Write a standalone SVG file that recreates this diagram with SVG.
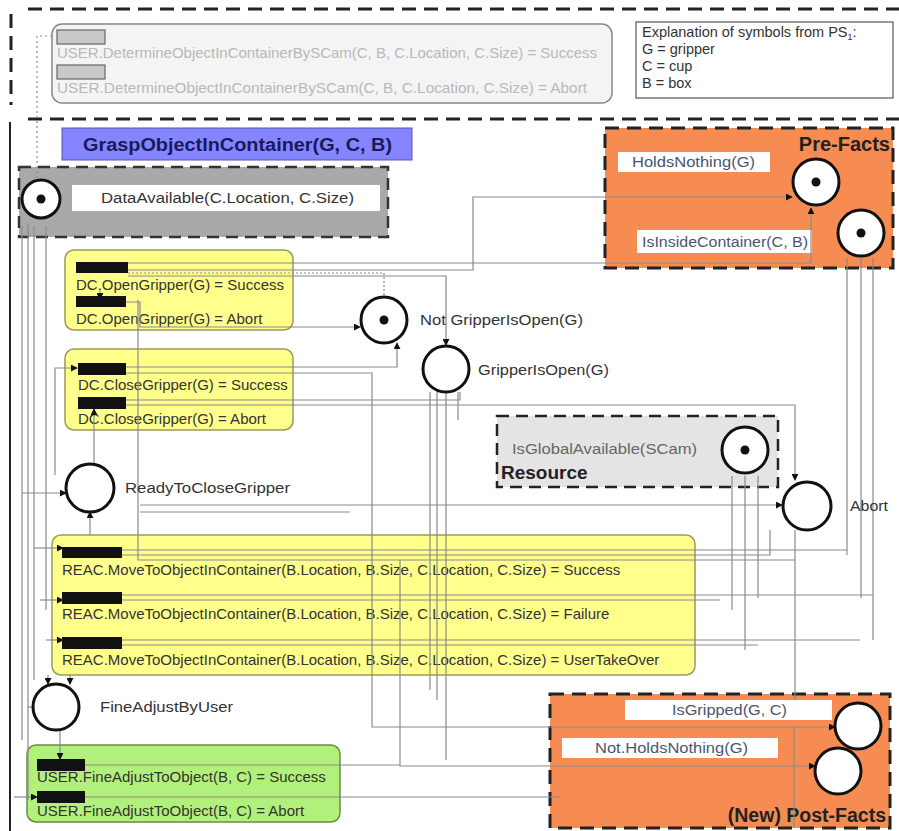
<svg xmlns="http://www.w3.org/2000/svg" width="899" height="831" viewBox="0 0 899 831">
<defs>
  <marker id="arr" viewBox="0 0 8 8" refX="7" refY="4" markerWidth="7" markerHeight="7" orient="auto" markerUnits="userSpaceOnUse">
    <path d="M0,0 L8,4 L0,8 z" fill="#111"/>
  </marker>
  <style>
    text { font-family: "Liberation Sans", Arial, sans-serif; }
    .lbl { font-size: 15px; fill: #333; }
    .plbl { font-size: 14px; fill: #333; }
    .faded { font-size: 15px; fill: #b8b8b8; }
    .expl { font-size: 14.5px; fill: #333; }
    .fact { font-size: 14px; fill: #4a5572; }
    .bold { font-weight: bold; fill: #222; }
    .place { fill: #fff; stroke: #111; stroke-width: 3; }
    .token { fill: #111; }
    .trans { fill: #111; }
    .edge { fill: none; stroke: #8a8a8a; stroke-width: 1.2; }
    .edgeA { fill: none; stroke: #8a8a8a; stroke-width: 1.2; marker-end: url(#arr); }
    .dash { fill: none; stroke: #222; stroke-width: 3; stroke-dasharray: 14 8; }
    .wlabel { fill: #fff; }
    .yellow { fill: #ffff8c; stroke: #9a9a5a; stroke-width: 1.5; }
    .green { fill: #b2f07c; stroke: #6a8a4a; stroke-width: 1.5; }
    .orange { fill: #f68c52; stroke: #222; stroke-width: 3; stroke-dasharray: 14 8; }
  </style>
</defs>

<rect x="0" y="0" width="899" height="831" fill="#fff"/>

<!-- frame of the external part and of the skill part -->
<g id="frame">
  <line x1="28" y1="9" x2="899" y2="9" class="dash"/>
  <line x1="11" y1="14" x2="11" y2="105" class="dash"/>
  <line x1="28" y1="119" x2="899" y2="119" class="dash"/>
  <line x1="10" y1="122" x2="10" y2="831" stroke="#222" stroke-width="2"/>
</g>

<!-- external USER transitions (inactive) -->
<g id="user-determine">
  <rect x="52" y="24" width="560" height="79" rx="10" fill="#f4f4f4" stroke="#888" stroke-width="1.5"/>
  <rect x="57" y="30" width="48" height="14" fill="#c8c8c8" stroke="#666" stroke-width="1.2"/>
  <text x="57" y="58" class="faded" textLength="540" lengthAdjust="spacingAndGlyphs">USER.DetermineObjectInContainerBySCam(C, B, C.Location, C.Size) = Success</text>
  <rect x="57" y="65" width="48" height="14" fill="#c8c8c8" stroke="#666" stroke-width="1.2"/>
  <text x="57" y="93" class="faded" textLength="530" lengthAdjust="spacingAndGlyphs">USER.DetermineObjectInContainerBySCam(C, B, C.Location, C.Size) = Abort</text>
</g>

<g id="explanation">
  <rect x="636" y="22" width="257" height="76" fill="#fff" stroke="#555" stroke-width="1.2"/>
  <text x="642" y="37" class="expl">Explanation of symbols from PS<tspan font-size="9" dy="3">1</tspan><tspan dy="-3">:</tspan></text>
  <text x="642" y="54" class="expl">G = gripper</text>
  <text x="642" y="71" class="expl">C = cup</text>
  <text x="642" y="88" class="expl">B = box</text>
</g>

<!-- skill title -->
<g id="title">
  <rect x="62" y="128" width="350" height="32" fill="#8585ff" stroke="#5555aa" stroke-width="1"/>
  <text x="83" y="151" font-size="18" font-weight="bold" fill="#1a1a5a" textLength="309" lengthAdjust="spacingAndGlyphs">GraspObjectInContainer(G, C, B)</text>
</g>

<g id="data-available">
  <rect x="19" y="167" width="369" height="70" fill="#a9a9a9" stroke="#333" stroke-width="2.5" stroke-dasharray="12 7"/>
  <rect x="72" y="185" width="308" height="26" class="wlabel"/>
  <text x="101" y="203" class="plbl" textLength="253" lengthAdjust="spacingAndGlyphs">DataAvailable(C.Location, C.Size)</text>
</g>

<g id="open-gripper">
  <rect x="65" y="250" width="228" height="80" rx="9" class="yellow"/>
  <rect x="76" y="262" width="52" height="11" class="trans"/>
  <text x="76" y="290" class="lbl">DC.OpenGripper(G) = Success</text>
  <rect x="76" y="296" width="50" height="11" class="trans"/>
  <text x="76" y="324" class="lbl">DC.OpenGripper(G) = Abort</text>
</g>

<g id="close-gripper">
  <rect x="65" y="349" width="228" height="81" rx="9" class="yellow"/>
  <rect x="78" y="363" width="48" height="12" class="trans"/>
  <text x="78" y="390" class="lbl">DC.CloseGripper(G) = Success</text>
  <rect x="78" y="397" width="48" height="12" class="trans"/>
  <text x="78" y="424" class="lbl">DC.CloseGripper(G) = Abort</text>
</g>

<g id="resource">
  <rect x="497" y="416" width="281" height="71" fill="#e4e4e4" stroke="#222" stroke-width="2.5" stroke-dasharray="12 7"/>
  <text x="512" y="454" class="plbl" style="fill:#666" textLength="185" lengthAdjust="spacingAndGlyphs">IsGlobalAvailable(SCam)</text>
  <text x="501" y="479" font-size="19" class="bold">Resource</text>
</g>

<g id="pre-facts">
  <rect x="605" y="128" width="288" height="140" class="orange"/>
  <text x="890" y="151" text-anchor="end" font-size="20" class="bold">Pre-Facts</text>
  <rect x="618" y="152" width="152" height="20" class="wlabel"/>
  <text x="632" y="167" class="fact" textLength="123" lengthAdjust="spacingAndGlyphs">HoldsNothing(G)</text>
  <rect x="637" y="230" width="175" height="23" class="wlabel"/>
  <text x="642" y="247" class="fact" textLength="166" lengthAdjust="spacingAndGlyphs">IsInsideContainer(C, B)</text>
</g>

<g id="move-to-object">
  <rect x="52" y="535" width="643" height="140" rx="9" class="yellow"/>
  <rect x="62" y="547" width="60" height="11" class="trans"/>
  <text x="62" y="575" class="lbl">REAC.MoveToObjectInContainer(B.Location, B.Size, C.Location, C.Size) = Success</text>
  <rect x="62" y="592" width="60" height="12" class="trans"/>
  <text x="62" y="619" class="lbl">REAC.MoveToObjectInContainer(B.Location, B.Size, C.Location, C.Size) = Failure</text>
  <rect x="62" y="637" width="60" height="12" class="trans"/>
  <text x="62" y="665" class="lbl">REAC.MoveToObjectInContainer(B.Location, B.Size, C.Location, C.Size) = UserTakeOver</text>
</g>

<g id="fine-adjust">
  <rect x="27" y="745" width="313" height="77" rx="9" class="green"/>
  <rect x="37" y="759" width="48" height="12" class="trans"/>
  <text x="37" y="782" class="lbl">USER.FineAdjustToObject(B, C) = Success</text>
  <rect x="37" y="791" width="48" height="12" class="trans"/>
  <text x="37" y="816" class="lbl">USER.FineAdjustToObject(B, C) = Abort</text>
</g>

<g id="post-facts">
  <rect x="550" y="694" width="340" height="134" class="orange"/>
  <rect x="625" y="700" width="207" height="20" class="wlabel"/>
  <text x="672" y="715" class="fact" textLength="115" lengthAdjust="spacingAndGlyphs">IsGripped(G, C)</text>
  <rect x="562" y="738" width="216" height="20" class="wlabel"/>
  <text x="595" y="753" class="fact" textLength="153" lengthAdjust="spacingAndGlyphs">Not.HoldsNothing(G)</text>
  <text x="886" y="822" text-anchor="end" font-size="19.5" class="bold">(New) Post-Facts</text>
</g>

<!-- connectors -->
<g id="connectors">
  <!-- external request into DataAvailable -->
  <path d="M37,178 V36 H55" class="edge" stroke-dasharray="2 3"/>
  <!-- left trunk lines -->
  <path d="M22,226 V740" class="edge"/>
  <path d="M28,224 V800" class="edge"/>
  <path d="M34,226 V680" class="edge"/>
  <path d="M46,226 V610" class="edge"/>
  <!-- OpenGripper -->
  <path d="M128,263 H811 V208" class="edgeA"/>
  <path d="M128,270 H473 V197 H792" class="edgeA"/>
  <path d="M128,276 H446 V345" class="edgeA"/>
  <path d="M128,273 H384 V296" class="edge" stroke-dasharray="2 2"/>
  <path d="M126,302 H140 V327 H360" class="edgeA"/>
  <path d="M100,290 V299" class="edgeA"/>
  <path d="M138,300 V560 H795" class="edge"/>
  <!-- CloseGripper -->
  <path d="M55,475 V368 H77" class="edgeA"/>
  <path d="M126,367 H397 V343" class="edgeA"/>
  <path d="M126,373 H372 V540" class="edge"/>
  <path d="M126,400 H460 V392" class="edge"/>
  <path d="M126,405 H795 V480" class="edgeA"/>
  <path d="M94,464 V409" class="edgeA"/>
  <!-- ReadyToCloseGripper -->
  <path d="M22,493 H66" class="edgeA"/>
  <path d="M90,535 V512" class="edgeA"/>
  <path d="M140,505 H782" class="edgeA"/>
  <path d="M140,512 H350" class="edge"/>
  <!-- GripperIsOpen downward -->
  <path d="M430,392 V690" class="edge"/>
  <path d="M437,392 V700" class="edge"/>
  <path d="M446,392 V760" class="edge"/>
  <path d="M458,392 V420" class="edge"/>
  <!-- Resource -->
  <path d="M732,476 V610" class="edge"/>
  <path d="M745,476 V650" class="edge"/>
  <path d="M758,476 V598" class="edge"/>
  <!-- IsInsideContainer -->
  <path d="M847,258 V555" class="edge"/>
  <path d="M861,258 V598" class="edge"/>
  <path d="M873,258 V640" class="edge"/>
  <!-- REAC outputs -->
  <path d="M122,550 H847" class="edge"/>
  <path d="M122,555 H770 V530" class="edge"/>
  <path d="M122,595 H873" class="edge"/>
  <path d="M122,600 H720" class="edge"/>
  <path d="M122,640 H860" class="edge"/>
  <path d="M122,645 H758" class="edge"/>
  <path d="M40,600 H63" class="edgeA"/>
  <path d="M34,548 H63" class="edgeA"/>
  <path d="M46,640 H63" class="edgeA"/>
  <path d="M795,530 V700" class="edge"/>
  <path d="M372,540 V727 H835" class="edgeA"/>
  <path d="M400,560 V766 H815" class="edgeA"/>
  <path d="M794,727 V827" class="edge"/>
  <!-- FineAdjustByUser -->
  <path d="M48,675 V684" class="edgeA"/>
  <path d="M70,675 V684" class="edgeA"/>
  <path d="M60,730 V759" class="edgeA"/>
  <path d="M28,707 H33" class="edge"/>
  <path d="M14,797 H37" class="edgeA"/>
  <path d="M85,765 H400" class="edge"/>
  <path d="M85,797 H560" class="edge"/>
</g>

<!-- places -->
<g id="p-data-available">
  <circle cx="41" cy="199" r="19" class="place"/>
  <circle cx="41" cy="199" r="4.5" class="token"/>
</g>

<g id="p-not-gripper-is-open">
  <circle cx="384" cy="320" r="23" class="place"/>
  <circle cx="384" cy="320" r="4.5" class="token"/>
  <text x="420" y="325" class="plbl" textLength="163" lengthAdjust="spacingAndGlyphs">Not GripperIsOpen(G)</text>
</g>

<g id="p-gripper-is-open">
  <circle cx="446" cy="369" r="23" class="place"/>
  <text x="478" y="375" class="plbl" textLength="131" lengthAdjust="spacingAndGlyphs">GripperIsOpen(G)</text>
</g>

<g id="p-ready-to-close">
  <circle cx="90" cy="488" r="24" class="place"/>
  <text x="125" y="493" class="plbl" textLength="165" lengthAdjust="spacingAndGlyphs">ReadyToCloseGripper</text>
</g>

<g id="p-is-global-available">
  <circle cx="745" cy="450" r="23" class="place"/>
  <circle cx="745" cy="450" r="4.5" class="token"/>
</g>

<g id="p-abort">
  <circle cx="807" cy="506" r="24" class="place"/>
  <text x="850" y="511" class="plbl" textLength="38" lengthAdjust="spacingAndGlyphs">Abort</text>
</g>

<g id="p-holds-nothing">
  <circle cx="816" cy="182" r="23" class="place"/>
  <circle cx="816" cy="182" r="4.5" class="token"/>
</g>

<g id="p-is-inside-container">
  <circle cx="861" cy="233" r="23" class="place"/>
  <circle cx="861" cy="233" r="4.5" class="token"/>
</g>

<g id="p-fine-adjust-by-user">
  <circle cx="56" cy="707" r="23" class="place"/>
  <text x="100" y="712" class="plbl" textLength="133" lengthAdjust="spacingAndGlyphs">FineAdjustByUser</text>
</g>

<g id="p-is-gripped">
  <circle cx="858" cy="726" r="23" class="place"/>
</g>

<g id="p-not-holds-nothing">
  <circle cx="838" cy="771" r="23" class="place"/>
</g>
</svg>
